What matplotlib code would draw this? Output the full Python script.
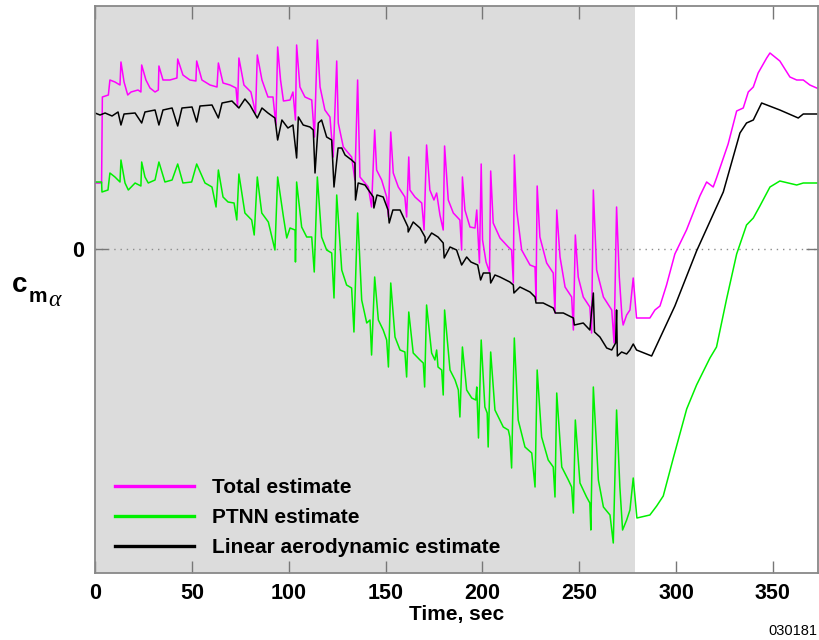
import numpy as np
import matplotlib
matplotlib.use('Agg')
import matplotlib.pyplot as plt
from matplotlib.lines import Line2D

plt.rcParams['font.family'] = ['Liberation Sans', 'DejaVu Sans']

# (time [s], Cm_alpha) vertices of each estimate
total_pts = [
    (0, 0.66), (3.4, 0.66), (3.8, 1.52), (6.9, 1.54), (7.7, 1.69), (10.3, 1.67), (12.9, 1.64),
    (13.4, 1.87), (15.0, 1.67), (16.9, 1.54), (18.6, 1.57), (22.2, 1.59), (23.7, 1.57),
    (24.1, 1.84), (26.3, 1.69), (28.4, 1.61), (31.0, 1.57), (32.7, 1.59),
    (33.0, 1.83), (35.1, 1.69), (38.7, 1.69), (42.3, 1.71),
    (42.7, 1.90), (45.4, 1.74), (49.0, 1.69), (52.1, 1.68),
    (52.5, 1.88), (55.2, 1.69), (59.4, 1.64), (63.0, 1.62),
    (63.7, 1.86), (66.1, 1.66), (69.7, 1.64), (72.8, 1.61), (73.6, 1.42),
    (74.3, 1.91), (76.9, 1.64), (80.5, 1.57), (82.9, 1.36),
    (83.8, 1.94), (86.2, 1.69), (89.3, 1.52), (91.9, 1.52), (93.4, 1.24),
    (94.3, 2.02), (95.8, 1.69), (97.3, 1.48), (100.7, 1.49), (102.2, 1.57), (103.5, 1.29),
    (104.1, 2.04), (105.8, 1.62), (108.4, 1.52), (111.9, 1.49), (113.3, 1.12),
    (114.8, 2.09), (116.2, 1.62), (118.7, 1.39), (121.3, 1.32), (123.0, 0.92),
    (124.8, 1.88), (125.6, 1.26), (128.2, 1.02), (130.8, 0.96), (132.5, 0.92), (134.2, 0.69),
    (135.6, 1.69), (136.8, 0.72), (139.4, 0.66), (141.1, 0.62), (142.8, 0.42),
    (144.4, 1.19), (145.4, 0.79), (148.0, 0.69), (150.6, 0.52), (151.5, 0.32),
    (152.7, 1.17), (154.0, 0.76), (156.6, 0.62), (160.0, 0.52), (160.9, 0.32),
    (162.0, 0.92), (162.6, 0.59), (165.2, 0.52), (168.7, 0.46), (169.9, 0.19),
    (171.2, 1.04), (172.9, 0.59), (175.0, 0.49), (176.4, 0.56), (178.1, 0.34), (179.8, 0.19),
    (180.5, 1.03), (182.4, 0.49), (185.0, 0.36), (188.4, 0.29), (189.3, -0.01),
    (189.7, 0.72), (191.0, 0.39), (193.6, 0.22), (196.2, 0.21), (197.1, 0.39), (198.5, -0.14),
    (199.4, 0.85), (200.1, 0.09), (201.9, -0.13), (203.7, -0.23),
    (204.3, 0.78), (205.6, 0.26), (209.1, 0.11), (213.4, 0.02), (215.1, -0.01), (216.0, -0.34),
    (216.5, 0.94), (217.7, 0.39), (220.3, -0.01), (224.6, -0.16), (227.2, -0.18), (227.7, -0.51),
    (228.3, 0.63), (229.7, 0.12), (233.2, -0.14), (236.6, -0.24), (237.5, -0.64),
    (238.4, 0.39), (240.1, -0.08), (242.7, -0.38), (246.1, -0.48), (247.0, -0.81),
    (248.0, 0.14), (249.5, -0.28), (252.1, -0.48), (255.5, -0.58), (256.4, -0.84),
    (257.3, 0.59), (259.0, -0.21), (262.5, -0.48), (266.8, -0.61), (268.0, -0.94),
    (269.3, 0.42), (270.7, -0.28), (272.1, -0.68), (272.7, -0.76), (274.5, -0.66), (276.2, -0.61),
    (277.9, -0.29), (279.6, -0.69), (286.5, -0.69), (289.1, -0.61), (291.7, -0.57),
    (295.1, -0.36), (299.4, -0.05), (305.4, 0.19), (312.3, 0.53), (315.8, 0.67), (319.2, 0.62),
    (320.9, 0.71), (326.9, 1.05), (331.3, 1.38), (334.7, 1.41), (337.3, 1.57), (339.9, 1.62),
    (342.4, 1.76), (346.8, 1.91), (348.5, 1.96), (353.6, 1.88), (358.8, 1.72), (362.3, 1.69),
    (365.7, 1.69), (369.1, 1.64), (373.8, 1.60),
]

ptnn_pts = [
    (0, 0.67), (3.4, 0.67), (3.6, 0.57), (6.7, 0.59), (7.7, 0.76), (10.3, 0.72), (12.9, 0.67),
    (13.4, 0.89), (15.5, 0.66), (17.2, 0.59), (20.7, 0.66), (23.7, 0.63),
    (24.1, 0.87), (25.8, 0.72), (27.5, 0.66), (31.0, 0.69),
    (33.0, 0.87), (36.1, 0.67), (39.8, 0.69),
    (42.7, 0.85), (45.4, 0.66), (49.9, 0.67),
    (52.5, 0.85), (56.8, 0.66), (60.4, 0.62), (62.5, 0.42),
    (63.7, 0.79), (66.1, 0.52), (68.7, 0.47), (71.8, 0.46), (73.2, 0.29),
    (74.3, 0.75), (77.4, 0.36), (80.9, 0.29), (82.2, 0.14),
    (83.8, 0.72), (86.1, 0.36), (89.5, 0.27), (92.9, -0.01),
    (94.3, 0.72), (97.3, 0.32), (99.0, 0.11), (100.7, 0.21), (103.3, 0.19), (103.5, -0.13),
    (104.1, 0.67), (106.7, 0.22), (109.3, 0.12), (111.9, 0.12), (113.2, -0.23),
    (114.8, 0.72), (117.0, 0.12), (119.6, -0.01), (122.2, -0.04), (123.4, -0.49),
    (124.8, 0.54), (127.4, -0.21), (129.9, -0.36), (132.5, -0.39), (133.7, -0.83),
    (135.6, 0.36), (137.7, -0.51), (140.3, -0.74), (142.0, -0.71), (142.8, -1.06),
    (144.4, -0.28), (146.3, -0.71), (148.8, -0.81), (150.6, -0.91), (151.5, -1.18),
    (152.7, -0.34), (154.9, -0.88), (157.5, -1.01), (160.0, -1.03), (160.9, -1.28),
    (162.0, -0.63), (164.3, -1.04), (167.8, -1.11), (169.5, -1.14), (170.2, -1.38),
    (171.2, -0.56), (173.8, -1.04), (175.5, -1.11), (176.4, -1.01), (177.1, -1.18),
    (179.0, -1.21), (179.8, -1.46),
    (180.5, -0.61), (183.3, -1.21), (185.9, -1.31), (187.6, -1.41), (188.4, -1.68),
    (189.7, -0.98), (191.9, -1.41), (194.5, -1.49), (196.6, -1.51), (197.1, -1.38), (198.0, -1.89),
    (199.4, -0.91), (201.3, -1.58), (202.5, -1.64), (203.0, -1.98),
    (204.3, -1.03), (206.5, -1.61), (210.8, -1.78), (213.4, -1.81), (214.2, -1.88), (215.1, -2.19),
    (216.5, -0.89), (218.5, -1.71), (222.0, -1.98), (225.5, -2.04), (227.2, -2.38),
    (228.3, -1.21), (230.6, -1.88), (234.0, -2.11), (236.6, -2.18), (237.5, -2.48),
    (238.4, -1.44), (241.0, -2.18), (244.4, -2.31), (246.1, -2.38), (247.0, -2.64),
    (248.0, -1.71), (250.4, -2.34), (253.8, -2.48), (255.5, -2.54), (256.0, -2.81),
    (257.3, -1.38), (259.9, -2.31), (262.5, -2.58), (265.9, -2.66), (267.6, -2.94),
    (269.3, -1.61), (271.0, -2.38), (272.4, -2.81), (274.5, -2.71), (276.2, -2.61),
    (277.9, -2.29), (279.8, -2.69), (286.5, -2.66), (290.0, -2.57), (293.4, -2.47),
    (298.6, -2.09), (305.5, -1.60), (310.6, -1.36), (317.5, -1.09), (320.9, -0.98),
    (326.1, -0.50), (331.3, -0.05), (336.4, 0.24), (339.9, 0.31), (343.3, 0.43),
    (348.5, 0.62), (353.6, 0.68), (362.3, 0.64), (365.7, 0.66), (373.8, 0.66),
]

linear_pts = [
    (0, 1.36), (2.6, 1.34), (5.2, 1.36), (8.8, 1.33), (11.9, 1.37), (13.4, 1.24), (15.0, 1.35),
    (20.7, 1.36), (24.1, 1.26), (25.8, 1.37), (31.0, 1.39), (33.0, 1.24), (35.1, 1.39),
    (39.8, 1.41), (42.7, 1.23), (44.9, 1.41), (50.1, 1.42), (52.5, 1.27), (54.2, 1.43),
    (60.4, 1.44), (63.7, 1.31), (65.6, 1.46), (70.7, 1.48), (74.3, 1.41), (77.4, 1.50),
    (80.0, 1.44), (83.8, 1.31), (86.2, 1.41), (89.3, 1.36), (92.9, 1.31), (94.3, 1.09),
    (96.5, 1.29), (99.6, 1.21), (102.2, 1.24), (104.1, 0.91), (105.0, 1.32), (107.5, 1.24),
    (111.0, 1.22), (112.7, 1.19), (113.6, 0.76), (115.3, 1.26), (117.0, 1.29), (119.6, 1.12),
    (122.2, 1.09), (123.4, 0.62), (125.5, 1.01), (127.4, 1.01), (129.1, 0.94), (132.5, 0.89),
    (134.2, 0.86), (134.5, 0.49), (135.9, 0.66), (139.4, 0.64), (143.7, 0.52), (144.0, 0.41),
    (145.6, 0.54), (148.8, 0.52), (151.3, 0.39), (151.9, 0.26), (153.8, 0.39), (157.5, 0.39),
    (161.6, 0.22), (161.7, 0.17), (164.3, 0.27), (167.8, 0.21), (170.4, 0.12), (170.5, 0.06),
    (173.8, 0.16), (177.1, 0.12), (179.8, 0.06), (180.3, -0.09), (183.3, 0.02), (186.7, -0.01),
    (189.3, -0.16), (191.9, -0.08), (194.1, -0.13), (197.6, -0.16), (199.1, -0.31),
    (200.5, -0.24), (203.9, -0.24), (204.3, -0.34), (206.5, -0.26), (209.1, -0.28),
    (214.2, -0.33), (216.0, -0.36), (216.3, -0.44), (219.4, -0.38), (224.6, -0.43),
    (227.2, -0.48), (227.7, -0.54), (231.4, -0.54), (236.6, -0.59), (237.7, -0.64),
    (241.8, -0.64), (247.0, -0.69), (247.5, -0.76), (252.1, -0.74), (255.5, -0.81),
    (257.3, -0.44), (257.9, -0.83), (260.7, -0.88), (264.2, -0.99), (266.8, -1.01),
    (268.8, -0.94), (269.3, -0.61), (269.7, -1.07), (271.9, -1.03), (274.5, -1.05),
    (276.2, -1.01), (277.9, -0.95), (279.6, -1.01), (287.4, -1.07), (299.4, -0.57),
    (310.6, -0.02), (324.4, 0.57), (333.0, 1.16), (336.4, 1.26), (339.9, 1.29), (344.2, 1.46),
    (353.6, 1.39), (363.1, 1.31), (365.7, 1.35), (373.8, 1.35),
]

labels = ['Total estimate', 'PTNN estimate', 'Linear aerodynamic estimate']
colors = ['#ff00ff', '#00f000', '#000000']
flight_end = 279   # end of the shaded (flight data) interval
x_ticks = [0, 50, 100, 150, 200, 250, 300, 350]

fig = plt.figure(figsize=(8.19, 6.4), dpi=100)
ax = fig.add_axes([95 / 819, 1 - 573 / 640, 723 / 819, 567 / 640])

ax.axvspan(0, flight_end, color='#dcdcdc', lw=0, zorder=0)
ax.axhline(0, color='#8c8c8c', ls=(0, (1, 3.5)), lw=1.0, zorder=1)

for pts, c in zip([total_pts, ptnn_pts, linear_pts], colors):
    t, v = np.array(pts).T
    ax.plot(t, v, color=c, lw=1.1, zorder=2)

ax.set_xlim(0, 373.3)
ax.set_ylim(-3.24, 2.43)

ax.set_xticks(x_ticks)
ax.set_xticklabels([str(x) for x in x_ticks], fontweight='bold', fontsize=15.5)
ax.set_yticks([0])
ax.set_yticklabels(['0'], fontweight='bold', fontsize=15.5)
ax.tick_params(axis='both', direction='in', length=9, width=1.0, color='#777777',
               top=True, right=True, pad=7)
ax.tick_params(axis='y', pad=8)
for s in ax.spines.values():
    s.set_color('#888888')
    s.set_linewidth(1.3)

ax.set_xlabel('Time, sec', fontweight='bold', fontsize=15, labelpad=1)

# c_m_alpha label, built from three pieces so the subscripts keep their size
fig.text(12 / 819, 1 - 292 / 640, 'c', fontsize=20, fontweight='bold', va='baseline')
fig.text(29 / 819, 1 - 302 / 640, 'm', fontsize=15, fontweight='bold', va='baseline')
fig.text(48 / 819, 1 - 306 / 640, '\u03b1', fontsize=17, family='Liberation Serif',
         style='italic', va='baseline')
fig.text(817 / 819, 1 - 638 / 640, '030181', fontsize=10.5, ha='right', va='bottom')

handles = [Line2D([], [], color=c, lw=2.4) for c in colors]
ax.legend(handles, labels, loc='upper left', bbox_to_anchor=(115 / 819, 1 - 478 / 640),
          bbox_transform=fig.transFigure, frameon=False, borderpad=0, borderaxespad=0,
          handlelength=3.8, handletextpad=0.85, labelspacing=0.53,
          prop={'weight': 'bold', 'size': 15})

fig.savefig('out.png', dpi=100)
